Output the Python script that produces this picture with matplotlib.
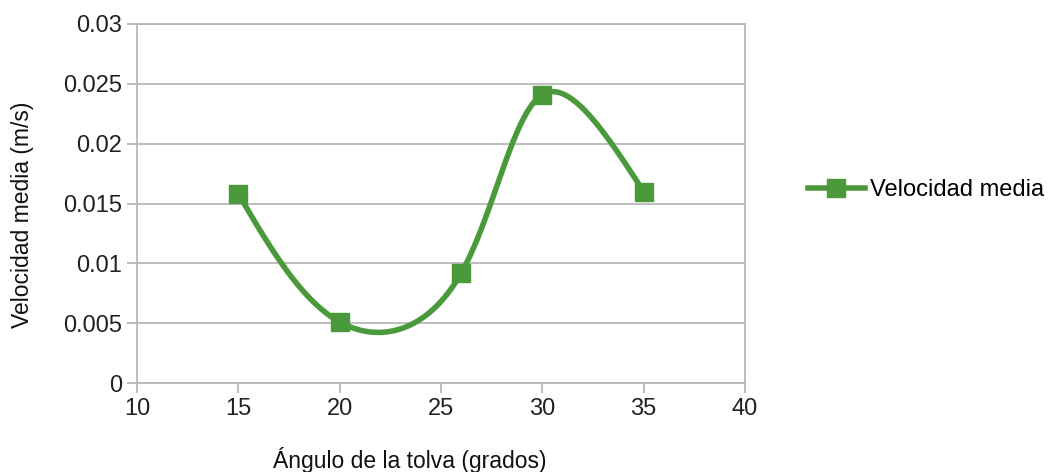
import numpy as np
import matplotlib.pyplot as plt
from matplotlib.lines import Line2D

plt.rcParams['font.family'] = ['Liberation Sans', 'DejaVu Sans']

# data
angulo = [15, 20, 26, 30, 35]
velocidad = [0.0158, 0.0051, 0.0092, 0.0241, 0.0160]

x_ticks = [10, 15, 20, 25, 30, 35, 40]
y_ticks = [0, 0.005, 0.01, 0.015, 0.02, 0.025, 0.03]
y_tick_labels = ['0', '0.005', '0.01', '0.015', '0.02', '0.025', '0.03']

GREEN = '#4a9a3c'
GRID = '#b3b3b3'
FS = 17
FS_LABEL = 16.5


def natural_spline(t, v, ts):
    # natural cubic spline of v over parameter t, evaluated at ts
    t = np.asarray(t, float)
    v = np.asarray(v, float)
    k = len(t)
    h = np.diff(t)
    A = np.zeros((k, k))
    b = np.zeros(k)
    A[0, 0] = A[-1, -1] = 1
    for i in range(1, k - 1):
        A[i, i - 1] = h[i - 1]
        A[i, i] = 2 * (h[i - 1] + h[i])
        A[i, i + 1] = h[i]
        b[i] = 6 * ((v[i + 1] - v[i]) / h[i] - (v[i] - v[i - 1]) / h[i - 1])
    M = np.linalg.solve(A, b)
    idx = np.clip(np.searchsorted(t, ts) - 1, 0, k - 2)
    t0, t1 = t[idx], t[idx + 1]
    hh = t1 - t0
    a0 = t1 - ts
    a1 = ts - t0
    return (M[idx] * a0 ** 3 + M[idx + 1] * a1 ** 3) / (6 * hh) \
        + (v[idx] / hh - M[idx] * hh / 6) * a0 \
        + (v[idx + 1] / hh - M[idx + 1] * hh / 6) * a1


def smooth_line(x, y, sx, sy, n=400):
    # parametric spline, chord length parameter
    px = np.asarray(x, float) * sx
    py = np.asarray(y, float) * sy
    t = np.concatenate([[0], np.cumsum(np.hypot(np.diff(px), np.diff(py)))])
    ts = np.linspace(0, t[-1], n)
    return natural_spline(t, px, ts) / sx, natural_spline(t, py, ts) / sy


fig = plt.figure(figsize=(10.49, 4.72), dpi=100)
ax = fig.add_axes([137 / 1049, 1 - 383 / 472, 608 / 1049, 359 / 472])

xs, ys = smooth_line(angulo, velocidad, 608 / 30, 0.5 * 359 / 0.03)
ax.plot(xs, ys, color=GREEN, lw=4, solid_capstyle='round', zorder=3)
ax.plot(angulo, velocidad, ls='none', marker='s', ms=12.5, color=GREEN, zorder=4)

ax.set_xlim(10, 40)
ax.set_ylim(0, 0.03)
ax.set_xticks(x_ticks)
ax.set_yticks(y_ticks)
ax.set_yticklabels(y_tick_labels)
ax.grid(axis='y', color=GRID, lw=1.2)
ax.set_axisbelow(True)
for s in ax.spines.values():
    s.set_color(GRID)
    s.set_linewidth(1.2)
ax.tick_params(colors=GRID, labelcolor='#222222', labelsize=FS, length=7, width=1.2)
ax.tick_params(axis='x', pad=4)

ax.set_xlabel('Ángulo de la tolva (grados)', fontsize=FS_LABEL, color='#111111')
ax.xaxis.set_label_coords(0.449, -0.2145)
ax.xaxis.label.set_va('center')
ax.set_ylabel('Velocidad media (m/s)', fontsize=FS_LABEL, color='#111111')
ax.yaxis.set_label_coords(-0.189, 0.468)
ax.yaxis.label.set_va('center')

handle = Line2D([], [], color=GREEN, lw=4, marker='s', ms=12.5)
fig.legend(handles=[handle], labels=['Velocidad media'], loc='center left',
           bbox_to_anchor=(808 / 1049, 1 - 190 / 472), frameon=False,
           fontsize=FS, handlelength=2.4, handletextpad=0.22,
           borderaxespad=0, borderpad=0)

fig.savefig('out.png', dpi=100)
